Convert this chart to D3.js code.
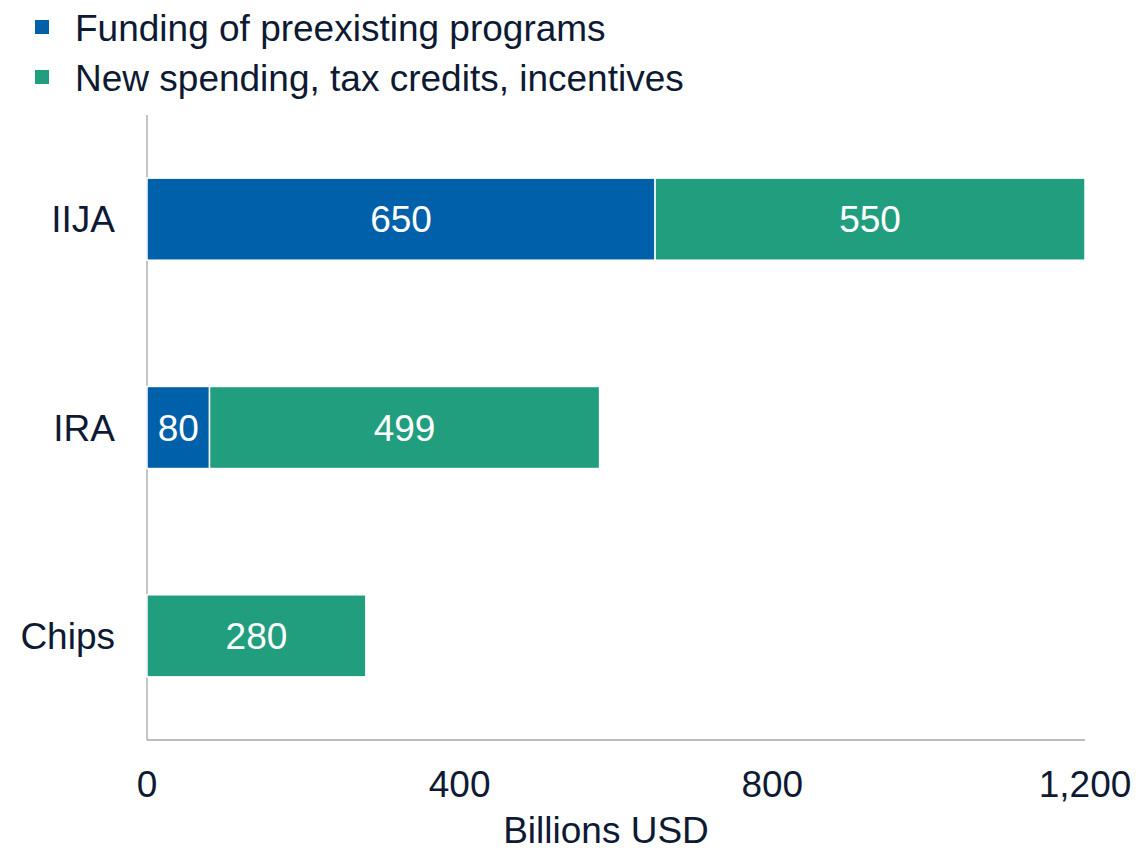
<!DOCTYPE html>
<html><head><meta charset="utf-8">
<script src="https://cdn.jsdelivr.net/npm/d3@7"></script>
<style>body{margin:0;background:#fff}svg{display:block}text{font-family:"Liberation Sans",Arial,sans-serif}</style>
</head><body><svg id="c" width="1138" height="850"></svg>
<script>
const categories = ["IIJA", "IRA", "Chips"];
const seriesNames = ["Funding of preexisting programs", "New spending, tax credits, incentives"];
const preexisting = [650, 80, 0];
const newSpending = [550, 499, 280];
const tickValues = [0, 400, 800, 1200];
const colors = ["#0061AA", "#219E7E"];
const textColor = "#0E1A33";
const fs = 37;

const svg = d3.select("#c");
const x = d3.scaleLinear().domain([0, 1200]).range([147, 1085]);
const y = d3.scaleBand().domain(categories).range([115, 740]).paddingInner(0.606).paddingOuter(0.303);

const rows = categories.map((c, i) => ({cat: c, a: preexisting[i], b: newSpending[i]}));
const stacked = d3.stack().keys(["a", "b"])(rows);

// axes lines
svg.append("line").attr("x1", x(0)).attr("x2", x(0)).attr("y1", 115).attr("y2", 740)
  .attr("stroke", "#A6A6A6").attr("stroke-width", 1.3);
svg.append("line").attr("x1", x(0)).attr("x2", x(1200)).attr("y1", 740).attr("y2", 740)
  .attr("stroke", "#A6A6A6").attr("stroke-width", 1.3);

stacked.forEach((s, si) => {
  const g = svg.append("g");
  g.selectAll("rect").data(s.filter(d => d[1] - d[0] > 0)).join("rect")
    .attr("x", d => x(d[0])).attr("width", d => x(d[1]) - x(d[0]))
    .attr("y", d => y(d.data.cat)).attr("height", y.bandwidth())
    .attr("fill", colors[si]).attr("stroke", "#fff").attr("stroke-width", 1.5);
  g.selectAll("text").data(s.filter(d => d[1] - d[0] > 0)).join("text")
    .attr("x", d => (x(d[0]) + x(d[1])) / 2).attr("y", d => y(d.data.cat) + y.bandwidth() / 2)
    .attr("dy", "0.36em").attr("text-anchor", "middle").attr("fill", "#fff")
    .attr("font-size", fs).text(d => d[1] - d[0]);
});

// category labels
svg.selectAll("text.cat").data(categories).join("text").attr("class", "cat")
  .attr("x", 115).attr("y", d => y(d) + y.bandwidth() / 2).attr("dy", "0.36em")
  .attr("text-anchor", "end").attr("fill", textColor).attr("font-size", fs).text(d => d);

// tick labels
const fmt = d3.format(",");
svg.selectAll("text.tick").data(tickValues).join("text").attr("class", "tick")
  .attr("x", d => x(d)).attr("y", 797).attr("text-anchor", "middle")
  .attr("fill", textColor).attr("font-size", fs).text(d => fmt(d));

svg.append("text").attr("x", 606).attr("y", 843).attr("text-anchor", "middle")
  .attr("fill", textColor).attr("font-size", fs).text("Billions USD");

// legend
seriesNames.forEach((n, i) => {
  svg.append("rect").attr("x", 35).attr("y", 20 + i * 50).attr("width", 14).attr("height", 14).attr("fill", colors[i]);
  svg.append("text").attr("x", 75).attr("y", 41 + i * 50).attr("fill", textColor).attr("font-size", fs).text(n);
});
</script></body></html>
